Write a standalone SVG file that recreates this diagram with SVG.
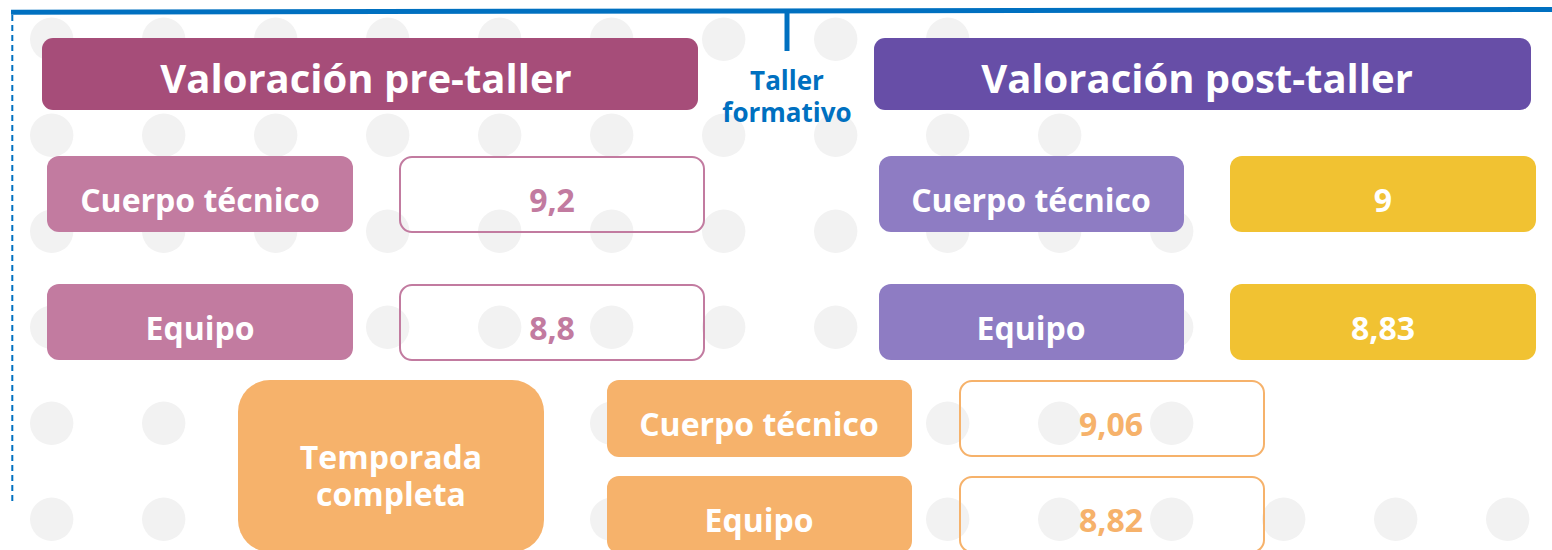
<svg xmlns="http://www.w3.org/2000/svg" width="1552" height="550" viewBox="0 0 1552 550">
<style>
text{font-family:"Open Sans","Noto Sans","Liberation Sans",sans-serif;font-weight:700;text-anchor:middle}
.dot{fill:#f2f2f2}
.w{fill:#ffffff}
.t1{font-size:40px}
.lb{font-size:32px}
.pk{fill:#c27ba0}
.pu{fill:#8e7cc3}
.ye{fill:#f1c232}
.or{fill:#f6b26b}
.vpk{fill:none;stroke:#c27ba0;stroke-width:2}
.vor{fill:none;stroke:#f6b26b;stroke-width:2}
.tpk{fill:#c27ba0}
.tor{fill:#f6b26b}
.blue{stroke:#0070c0;fill:none}
</style>
<rect width="1552" height="550" fill="#ffffff"/>
<g id="background-dots">
<circle class="dot" cx="51.7" cy="39.3" r="21.7"/><circle class="dot" cx="163.7" cy="39.3" r="21.7"/><circle class="dot" cx="275.7" cy="39.3" r="21.7"/><circle class="dot" cx="387.7" cy="39.3" r="21.7"/><circle class="dot" cx="499.7" cy="39.3" r="21.7"/><circle class="dot" cx="611.7" cy="39.3" r="21.7"/><circle class="dot" cx="723.7" cy="39.3" r="21.7"/><circle class="dot" cx="835.7" cy="39.3" r="21.7"/><circle class="dot" cx="947.7" cy="39.3" r="21.7"/>
<circle class="dot" cx="51.7" cy="135.3" r="21.7"/><circle class="dot" cx="163.7" cy="135.3" r="21.7"/><circle class="dot" cx="275.7" cy="135.3" r="21.7"/><circle class="dot" cx="387.7" cy="135.3" r="21.7"/><circle class="dot" cx="499.7" cy="135.3" r="21.7"/><circle class="dot" cx="611.7" cy="135.3" r="21.7"/><circle class="dot" cx="723.7" cy="135.3" r="21.7"/><circle class="dot" cx="835.7" cy="135.3" r="21.7"/><circle class="dot" cx="947.7" cy="135.3" r="21.7"/><circle class="dot" cx="1059.7" cy="135.3" r="21.7"/>
<circle class="dot" cx="51.7" cy="231.3" r="21.7"/><circle class="dot" cx="163.7" cy="231.3" r="21.7"/><circle class="dot" cx="275.7" cy="231.3" r="21.7"/><circle class="dot" cx="387.7" cy="231.3" r="21.7"/><circle class="dot" cx="499.7" cy="231.3" r="21.7"/><circle class="dot" cx="611.7" cy="231.3" r="21.7"/><circle class="dot" cx="723.7" cy="231.3" r="21.7"/><circle class="dot" cx="835.7" cy="231.3" r="21.7"/><circle class="dot" cx="947.7" cy="231.3" r="21.7"/><circle class="dot" cx="1059.7" cy="231.3" r="21.7"/><circle class="dot" cx="1171.7" cy="231.3" r="21.7"/>
<circle class="dot" cx="51.7" cy="327.3" r="21.7"/><circle class="dot" cx="163.7" cy="327.3" r="21.7"/><circle class="dot" cx="275.7" cy="327.3" r="21.7"/><circle class="dot" cx="387.7" cy="327.3" r="21.7"/><circle class="dot" cx="499.7" cy="327.3" r="21.7"/><circle class="dot" cx="611.7" cy="327.3" r="21.7"/><circle class="dot" cx="723.7" cy="327.3" r="21.7"/><circle class="dot" cx="835.7" cy="327.3" r="21.7"/><circle class="dot" cx="947.7" cy="327.3" r="21.7"/><circle class="dot" cx="1059.7" cy="327.3" r="21.7"/><circle class="dot" cx="1171.7" cy="327.3" r="21.7"/>
<circle class="dot" cx="51.7" cy="423.3" r="21.7"/><circle class="dot" cx="163.7" cy="423.3" r="21.7"/><circle class="dot" cx="275.7" cy="423.3" r="21.7"/><circle class="dot" cx="387.7" cy="423.3" r="21.7"/><circle class="dot" cx="499.7" cy="423.3" r="21.7"/><circle class="dot" cx="611.7" cy="423.3" r="21.7"/><circle class="dot" cx="723.7" cy="423.3" r="21.7"/><circle class="dot" cx="835.7" cy="423.3" r="21.7"/><circle class="dot" cx="947.7" cy="423.3" r="21.7"/><circle class="dot" cx="1059.7" cy="423.3" r="21.7"/><circle class="dot" cx="1171.7" cy="423.3" r="21.7"/>
<circle class="dot" cx="51.7" cy="519.3" r="21.7"/><circle class="dot" cx="163.7" cy="519.3" r="21.7"/><circle class="dot" cx="275.7" cy="519.3" r="21.7"/><circle class="dot" cx="387.7" cy="519.3" r="21.7"/><circle class="dot" cx="499.7" cy="519.3" r="21.7"/><circle class="dot" cx="611.7" cy="519.3" r="21.7"/><circle class="dot" cx="723.7" cy="519.3" r="21.7"/><circle class="dot" cx="835.7" cy="519.3" r="21.7"/><circle class="dot" cx="947.7" cy="519.3" r="21.7"/><circle class="dot" cx="1059.7" cy="519.3" r="21.7"/><circle class="dot" cx="1171.7" cy="519.3" r="21.7"/><circle class="dot" cx="1283.7" cy="519.3" r="21.7"/><circle class="dot" cx="1395.7" cy="519.3" r="21.7"/><circle class="dot" cx="1507.7" cy="519.3" r="21.7"/>
</g>
<g id="connectors">
<line class="blue" x1="11" y1="12.2" x2="1552" y2="9.5" stroke-width="5"/>
<line class="blue" x1="12.3" y1="15" x2="12.3" y2="502" stroke-width="2" stroke-dasharray="6 4"/>
<line class="blue" x1="787" y1="11" x2="787" y2="51" stroke-width="5"/>
</g>
<g id="taller-formativo">
<text x="787" y="90" font-size="26" fill="#0070c0">Taller</text>
<text x="787" y="121.5" font-size="26" fill="#0070c0">formativo</text>
</g>
<g id="pre-title">
<rect x="42" y="38" width="656" height="72" rx="11" fill="#a64d79"/>
<text class="t1 w" x="366" y="93">Valoración pre-taller</text>
</g>
<g id="post-title">
<rect x="874" y="38" width="657" height="72" rx="11" fill="#674ea7"/>
<text class="t1 w" x="1197" y="93">Valoración post-taller</text>
</g>
<g id="pre-cuerpo">
<rect class="pk" x="47" y="156" width="306" height="76" rx="12"/>
<text class="lb w" x="200" y="212">Cuerpo técnico</text>
</g>
<g id="pre-cuerpo-val">
<rect class="vpk" x="400" y="157" width="304" height="75" rx="12"/>
<text class="lb tpk" x="552" y="212">9,2</text>
</g>
<g id="pre-equipo">
<rect class="pk" x="47" y="284" width="306" height="76" rx="12"/>
<text class="lb w" x="200" y="340">Equipo</text>
</g>
<g id="pre-equipo-val">
<rect class="vpk" x="400" y="285" width="304" height="75" rx="12"/>
<text class="lb tpk" x="552" y="340">8,8</text>
</g>
<g id="post-cuerpo">
<rect class="pu" x="879" y="156" width="305" height="76" rx="12"/>
<text class="lb w" x="1031" y="212">Cuerpo técnico</text>
</g>
<g id="post-cuerpo-val">
<rect class="ye" x="1230" y="156" width="306" height="76" rx="12"/>
<text class="lb w" x="1383" y="212">9</text>
</g>
<g id="post-equipo">
<rect class="pu" x="879" y="284" width="305" height="76" rx="12"/>
<text class="lb w" x="1031" y="340">Equipo</text>
</g>
<g id="post-equipo-val">
<rect class="ye" x="1230" y="284" width="306" height="76" rx="12"/>
<text class="lb w" x="1383" y="340">8,83</text>
</g>
<g id="temporada">
<rect class="or" x="238" y="380" width="306" height="172" rx="32"/>
<text class="lb w" x="391" y="469">Temporada</text>
<text class="lb w" x="391" y="506">completa</text>
</g>
<g id="temp-cuerpo">
<rect class="or" x="607" y="380" width="305" height="77" rx="12"/>
<text class="lb w" x="759" y="436">Cuerpo técnico</text>
</g>
<g id="temp-cuerpo-val">
<rect class="vor" x="960" y="381" width="304" height="75" rx="12"/>
<text class="lb tor" x="1111" y="436">9,06</text>
</g>
<g id="temp-equipo">
<rect class="or" x="607" y="476" width="305" height="77" rx="12"/>
<text class="lb w" x="759" y="532">Equipo</text>
</g>
<g id="temp-equipo-val">
<rect class="vor" x="960" y="477" width="304" height="75" rx="12"/>
<text class="lb tor" x="1111" y="532">8,82</text>
</g>
</svg>
